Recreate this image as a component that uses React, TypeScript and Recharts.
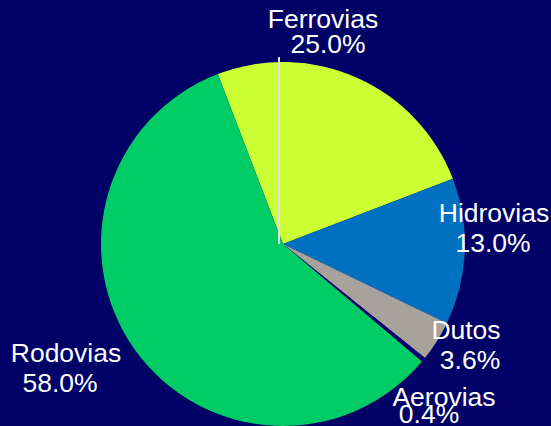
import { Cell, Pie, PieChart } from 'recharts';

const modes = ['Ferrovias', 'Hidrovias', 'Dutos', 'Aerovias', 'Rodovias'];
const shares = [25.0, 13.0, 3.6, 0.4, 58.0];
const colors = ['#CCFF33', '#0070C0', '#A8A29C', '#000070', '#00CC66'];

// label placement relative to pie center: [nameX, nameY, valueX, valueY]
const labelSpots: Array<[number, number, number, number]> = [
  [40, -216, 45, -191],
  [211, -22, 210, 8],
  [183, 95, 187, 125],
  [161, 162, 146, 179],
  [-217, 118, -223, 148],
];

const data = modes.map((name, i) => ({ name, value: shares[i] }));

function renderLabel(props: any) {
  const { cx, cy, outerRadius, index, name, value } = props;
  const [nx, ny, vx, vy] = labelSpots[index];
  const style = { fill: '#FFFFFF', fontSize: 26.5, fontFamily: 'Liberation Sans, Arial, sans-serif' };
  return (
    <g>
      {index === 0 && (
        <line x1={cx - 4} y1={cy} x2={cx - 4} y2={cy - outerRadius - 5} stroke="#E0E0E0" strokeWidth={2} />
      )}
      <text x={cx + nx} y={cy + ny} textAnchor="middle" {...style}>
        {name}
      </text>
      <text x={cx + vx} y={cy + vy} textAnchor="middle" {...style}>
        {value.toFixed(1)}%
      </text>
    </g>
  );
}

export default function App() {
  return (
    <div style={{ position: 'absolute', left: 0, top: 0, width: 551, height: 426, background: '#000066', overflow: 'hidden' }}>
      <PieChart width={551} height={426} margin={{ top: 0, right: 0, bottom: 0, left: 0 }}>
        <Pie
          data={data}
          dataKey="value"
          nameKey="name"
          cx={283}
          cy={244}
          outerRadius={182}
          startAngle={111}
          endAngle={-249}
          stroke="none"
          labelLine={false}
          label={renderLabel}
          isAnimationActive={false}
        >
          {data.map((d, i) => (
            <Cell key={d.name} fill={colors[i]} />
          ))}
        </Pie>
      </PieChart>
    </div>
  );
}
